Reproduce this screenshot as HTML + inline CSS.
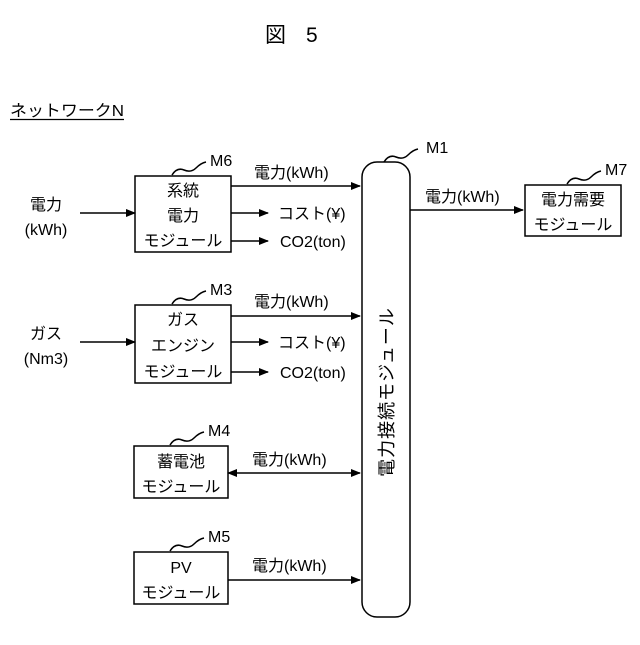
<!DOCTYPE html>
<html><head><meta charset="utf-8"><style>body{margin:0;background:#fff}</style></head><body>
<svg width="640" height="640" viewBox="0 0 640 640" xmlns="http://www.w3.org/2000/svg" font-family="Liberation Sans, Noto Sans CJK JP, sans-serif" fill="#000">
<defs><marker id="a" markerWidth="10" markerHeight="8" refX="9" refY="4" orient="auto" markerUnits="userSpaceOnUse"><path d="M0,0 L10,4 L0,8 z"/></marker>
<marker id="b" markerWidth="10" markerHeight="8" refX="1" refY="4" orient="auto" markerUnits="userSpaceOnUse"><path d="M10,0 L0,4 L10,8 z"/></marker></defs>
<text x="265" y="42" font-size="21">図</text><text x="306" y="42" font-size="21">5</text>
<text x="10" y="116" font-size="16" textLength="114" lengthAdjust="spacingAndGlyphs">ネットワークN</text>
<line x1="10" y1="119.5" x2="124" y2="119.5" stroke="#000" stroke-width="1.2"/>
<g stroke="#000" stroke-width="1.5" fill="none">
<rect x="135" y="176" width="96" height="76"/>
<rect x="135" y="305" width="96" height="78"/>
<rect x="134" y="446" width="94" height="52"/>
<rect x="134" y="552" width="94" height="52"/>
<rect x="525" y="185" width="96" height="51"/>
<rect x="362" y="162" width="48" height="455" rx="15"/>
<g marker-end="url(#a)">
<line x1="80" y1="213" x2="135" y2="213"/>
<line x1="231" y1="186" x2="360" y2="186"/>
<line x1="231" y1="213" x2="268" y2="213"/>
<line x1="231" y1="241" x2="268" y2="241"/>
<line x1="80" y1="342" x2="135" y2="342"/>
<line x1="231" y1="316" x2="360" y2="316"/>
<line x1="231" y1="342" x2="268" y2="342"/>
<line x1="231" y1="372" x2="268" y2="372"/>
<line x1="228" y1="473" x2="360" y2="473" marker-start="url(#b)"/>
<line x1="228" y1="580" x2="360" y2="580"/>
<line x1="410" y1="210" x2="523" y2="210"/>
</g>
<path d="M172,175 q5,-8 12,-5 t12,-2 t10,-6"/>
<path d="M172,304 q5,-8 12,-5 t12,-2 t10,-6"/>
<path d="M170,445 q5,-8 12,-5 t12,-2 t10,-6"/>
<path d="M170,551 q5,-8 12,-5 t12,-2 t10,-6"/>
<path d="M384,162 q5,-8 12,-5 t12,-2 t10,-6"/>
<path d="M567,184 q5,-8 12,-5 t12,-2 t10,-6"/>
</g>
<g font-size="16">
<text x="210" y="166">M6</text><text x="210" y="295">M3</text><text x="208" y="436">M4</text><text x="208" y="542">M5</text>
<text x="426" y="153">M1</text><text x="605" y="175">M7</text>
<text x="254" y="178">電力(kWh)</text><text x="254" y="307">電力(kWh)</text>
<text x="252" y="465">電力(kWh)</text><text x="252" y="571">電力(kWh)</text><text x="425" y="202">電力(kWh)</text>
<text x="278" y="219">コスト(¥)</text><text x="280" y="247">CO2(ton)</text>
<text x="278" y="348">コスト(¥)</text><text x="280" y="378">CO2(ton)</text>
<g text-anchor="middle">
<text x="183" y="196">系統</text><text x="183" y="221">電力</text><text x="183" y="246">モジュール</text>
<text x="183" y="325">ガス</text><text x="183" y="351">エンジン</text><text x="183" y="377">モジュール</text>
<text x="181" y="467">蓄電池</text><text x="181" y="492">モジュール</text>
<text x="181" y="573">PV</text><text x="181" y="598">モジュール</text>
<text x="573" y="205">電力需要</text><text x="573" y="230">モジュール</text>
<text x="46" y="210">電力</text><text x="46" y="235">(kWh)</text>
<text x="46" y="339">ガス</text><text x="46" y="364">(Nm3)</text>
</g></g>
<text x="0" y="0" font-size="18" text-anchor="middle" letter-spacing="1" transform="translate(393,392) rotate(-90)">電力接続モジュール</text>
</svg>
</body></html>
